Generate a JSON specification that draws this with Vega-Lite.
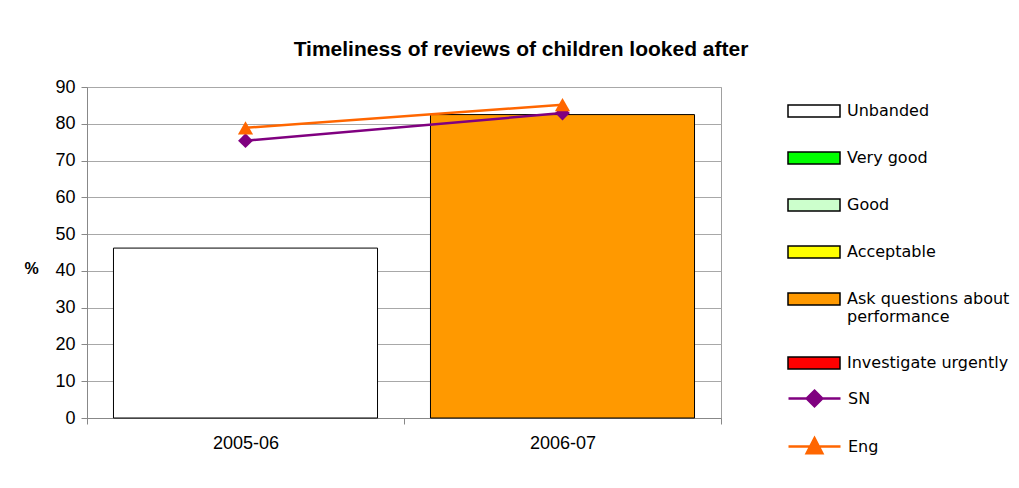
{
  "$schema": "https://vega.github.io/schema/vega-lite/v6.json",
  "autosize": {"type": "none"},
  "width": 634,
  "height": 331,
  "padding": {"left": 87, "top": 87, "right": 298, "bottom": 70},
  "background": "white",
  "title": {
    "text": "Timeliness of reviews of children looked after",
    "font": "Liberation Sans",
    "fontSize": 21,
    "fontWeight": "bold",
    "color": "black",
    "anchor": "middle",
    "baseline": "alphabetic",
    "dx": 117,
    "offset": 1
  },
  "config": {
    "view": {"stroke": "#a0a0a0", "strokeWidth": 1},
    "axis": {"labelFont": "Liberation Sans", "labelFontSize": 18, "labelColor": "black", "titleFont": "Liberation Sans"},
    "legend": {
      "title": null, "orient": "none", "legendX": 700, "padding": 0, "symbolSize": 2704,
      "labelOffset": 6, "labelFont": "DejaVu Sans", "labelFontSize": 16,
      "labelColor": "black", "labelLimit": 250, "symbolOpacity": 1
    }
  },
  "datasets": {
    "bars": [
      {"year": "2005-06", "series": "Unbanded", "value": 46.2},
      {"year": "2006-07", "series": "Ask questions about performance", "value": 82.5}
    ],
    "lines": [
      {"year": "2005-06", "series": "SN", "value": 75.4},
      {"year": "2006-07", "series": "SN", "value": 82.9},
      {"year": "2005-06", "series": "Eng", "value": 78.9},
      {"year": "2006-07", "series": "Eng", "value": 85.2}
    ]
  },
  "encoding": {
    "x": {
      "field": "year", "type": "nominal", "title": null,
      "scale": {"paddingInner": 0, "paddingOuter": 0},
      "axis": {"labelAngle": 0, "domainColor": "#888888", "tickColor": "#888888", "tickSize": 6, "labelPadding": 10, "tickBand": "extent"}
    },
    "y": {
      "field": "value", "type": "quantitative",
      "scale": {"domain": [0, 90], "nice": false},
      "axis": {
        "values": [0, 10, 20, 30, 40, 50, 60, 70, 80, 90],
        "title": "%", "titleAngle": 0, "titleFontSize": 16, "titleFontWeight": "bold",
        "titleX": -56, "titleY": 181, "titleAlign": "center", "titleBaseline": "middle",
        "domainColor": "#888888", "tickColor": "#888888", "tickSize": 6, "labelPadding": 6,
        "gridColor": "#a8a8a8", "grid": true
      }
    }
  },
  "resolve": {"scale": {"fill": "independent", "stroke": "independent", "shape": "independent"}},
  "layer": [
    {
      "data": {"name": "bars"},
      "mark": {"type": "bar", "stroke": "black", "strokeWidth": 1, "width": {"band": 0.833}},
      "encoding": {
        "fill": {
          "field": "series", "type": "nominal",
          "scale": {
            "domain": ["Unbanded", "Very good", "Good", "Acceptable", "Ask questions about performance", "Investigate urgently"],
            "range": ["#ffffff", "#00ff00", "#ccffcc", "#ffff00", "#ff9900", "#ff0000"]
          },
          "legend": {
            "legendY": -3, "rowPadding": 11,
            "symbolType": "M-1,-0.23H1V0.23H-1Z", "symbolStrokeWidth": 1.5, "symbolStrokeColor": "black",
            "labelExpr": "datum.label == 'Ask questions about performance' ? ['Ask questions about', 'performance'] : datum.label"
          }
        }
      }
    },
    {
      "data": {"name": "lines"},
      "mark": {"type": "line", "strokeWidth": 2.5},
      "encoding": {
        "stroke": {
          "field": "series", "type": "nominal",
          "scale": {"domain": ["SN", "Eng"], "range": ["#800080", "#ff6600"]},
          "legend": null
        }
      }
    },
    {
      "data": {"name": "lines"},
      "transform": [{"filter": "datum.series == 'SN'"}],
      "mark": {"type": "point", "shape": "diamond", "filled": true, "opacity": 1, "size": 220, "color": "#800080"}
    },
    {
      "data": {"name": "lines"},
      "transform": [{"filter": "datum.series == 'Eng'"}],
      "mark": {"type": "point", "shape": "triangle-up", "filled": true, "opacity": 1, "size": 230, "color": "#ff6600"}
    },
    {
      "data": {"name": "lines"},
      "mark": {"type": "point", "filled": true, "opacity": 0, "strokeWidth": 2.5},
      "encoding": {
        "shape": {
          "field": "series", "type": "nominal",
          "scale": {"domain": ["SN", "Eng"], "range": ["M-1,0H1M0,-0.3L0.3,0L0,0.3L-0.3,0Z", "M-1,0H1M0,-0.32L0.3,0.26H-0.3Z"]},
          "legend": {"legendY": 284, "rowPadding": 7, "symbolStrokeWidth": 2.5}
        },
        "fill": {
          "field": "series", "type": "nominal",
          "scale": {"domain": ["SN", "Eng"], "range": ["#800080", "#ff6600"]},
          "legend": {"legendY": 284, "rowPadding": 7, "symbolStrokeWidth": 2.5}
        },
        "stroke": {
          "field": "series", "type": "nominal",
          "scale": {"domain": ["SN", "Eng"], "range": ["#800080", "#ff6600"]},
          "legend": {"legendY": 284, "rowPadding": 7, "symbolStrokeWidth": 2.5}
        }
      }
    }
  ]
}
